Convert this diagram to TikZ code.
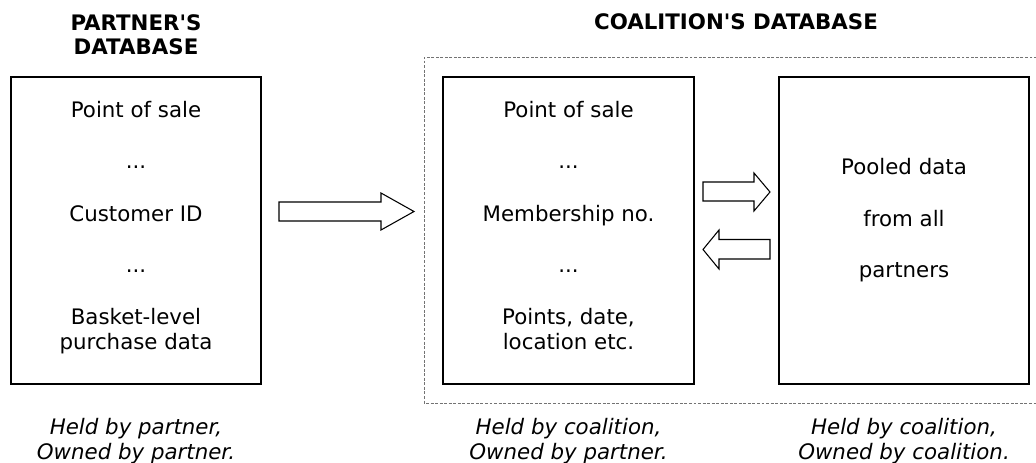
\documentclass[tikz,border=0pt]{standalone}
\usepackage{fontspec}
\setmainfont{DejaVu Sans}
\begin{document}
\begin{tikzpicture}[x=0.75pt,y=-0.75pt,
  dbbox/.style={draw=black,line width=1.1pt,inner sep=0pt,minimum width=187.5pt,minimum height=230.25pt},
  txt/.style={inner sep=0pt,anchor=base,font=\fontsize{16}{18}\selectfont},
  ttl/.style={txt,font=\fontsize{16}{18}\selectfont\bfseries},
  note/.style={txt,font=\fontsize{16}{18}\selectfont\itshape},
  blockarrow/.style={draw=black,line width=0.8pt,fill=white,line join=miter},
  group/.style={draw=black!55,line width=0.6pt,dash pattern=on 2.2pt off 1.2pt}]
\useasboundingbox (0,0) rectangle (1036,463);
% frame of coalition's database (right side cut off)
\draw[group] (1037,57) -- (424,57) -- (424,403) -- (1037,403);
% boxes
\node[dbbox] (pbox) at (136,230.5) {};
\node[dbbox,minimum width=188.25pt] (mbox) at (568.5,230.5) {};
\node[dbbox] (rbox) at (904,230.5) {};
% titles
\node[ttl] (t1a) at (136,30.7) {PARTNER\textquotesingle S};
\node[ttl] (t1b) at (136,55) {DATABASE};
\node[ttl] (t2) at (736,30) {COALITION\textquotesingle S DATABASE};
% left box text
\node[txt] (l1) at (136,117.3) {Point of sale};
\node[txt] (l2) at (136,168.3) {...};
\node[txt] (l3) at (136,221.7) {Customer ID};
\node[txt] (l4) at (136,272.7) {...};
\node[txt] (l5) at (136,325) {Basket-level};
\node[txt] (l6) at (136,349.3) {purchase data};
% middle box text
\node[txt] (m1) at (568.5,117.3) {Point of sale};
\node[txt] (m2) at (568.5,168.3) {...};
\node[txt] (m3) at (568.5,221.7) {Membership no.};
\node[txt] (m4) at (568.5,272.7) {...};
\node[txt] (m5) at (568.5,325) {Points, date,};
\node[txt] (m6) at (568.5,349.8) {location etc.};
% right box text
\node[txt] (r1) at (904,175) {Pooled data};
\node[txt] (r2) at (904,226.7) {from all};
\node[txt] (r3) at (904,277.3) {partners};
% notes
\node[note] (n1a) at (136,434.3) {Held by partner,};
\node[note] (n1b) at (136,459.3) {Owned by partner.};
\node[note] (n2a) at (568.5,434.3) {Held by coalition,};
\node[note] (n2b) at (568.5,459.3) {Owned by partner.};
\node[note] (n3a) at (904,434.3) {Held by coalition,};
\node[note] (n3b) at (904,459.3) {Owned by coalition.};
% block arrows
\draw[blockarrow] (279,202) -- (381,202) -- (381,193) -- (414,211.5) -- (381,230) -- (381,221) -- (279,221) -- cycle;
\draw[blockarrow] (703,182) -- (754,182) -- (754,173) -- (770,192) -- (754,211) -- (754,201) -- (703,201) -- cycle;
\draw[blockarrow] (770,239.5) -- (719,239.5) -- (719,230) -- (703,249.5) -- (719,269) -- (719,259) -- (770,259) -- cycle;
\end{tikzpicture}
\end{document}
